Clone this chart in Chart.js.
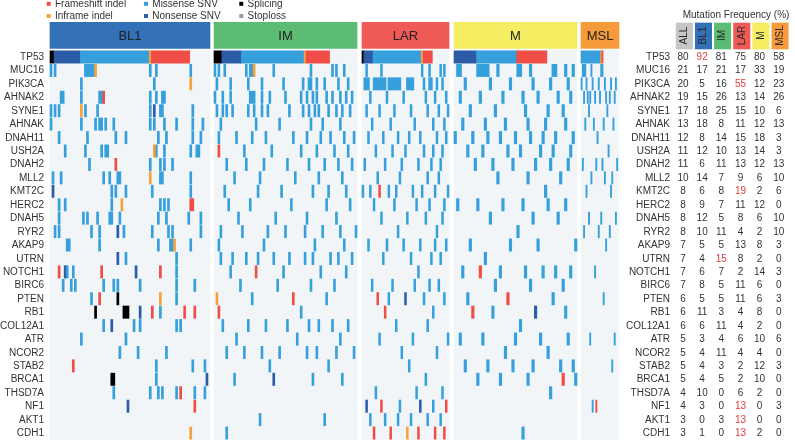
<!DOCTYPE html>
<html><head><meta charset="utf-8">
<script src="https://cdn.jsdelivr.net/npm/chart.js@4/dist/chart.umd.min.js"></script>
<style>html,body{margin:0;padding:0;background:#fff;}#wrap{position:relative;width:795px;height:440px;}</style>
</head><body><div id="wrap"><canvas id="c" width="795" height="440" style="width:795px;height:440px"></canvas></div>
<script>
// ---------------- DATA ----------------
const genes = ["TP53","MUC16","PIK3CA","AHNAK2","SYNE1","AHNAK","DNAH11","USH2A","DNAH2","MLL2","KMT2C","HERC2","DNAH5","RYR2","AKAP9","UTRN","NOTCH1","BIRC6","PTEN","RB1","COL12A1","ATR","NCOR2","STAB2","BRCA1","THSD7A","NF1","AKT1","CDH1"];
const subtypes = ["BL1","IM","LAR","M","MSL"];
const sampleCounts = [79,73,47,49,31];
const freqColumns = ["ALL","BL1","IM","LAR","M","MSL"];
const freqALL = [80,21,20,19,17,13,12,11,11,10,8,8,8,8,7,7,7,7,6,6,6,5,5,5,5,4,4,3,3];
const freqBL1 = [92,17,5,15,18,18,8,12,6,14,6,9,12,10,5,4,6,8,5,11,6,3,4,4,4,10,3,0,1];
const freqIM  = [81,21,16,26,25,8,14,10,11,7,8,7,5,11,5,15,7,5,5,3,11,4,11,3,5,0,0,3,0];
const freqLAR = [75,17,55,13,15,11,15,13,13,9,19,11,8,4,13,8,2,11,11,4,4,6,4,2,2,6,13,13,13];
const freqM   = [80,33,12,14,10,12,18,14,12,6,2,12,6,2,8,2,14,6,6,8,2,10,4,12,10,2,0,0,2];
const freqMSL = [58,19,23,26,6,13,3,3,13,10,6,0,10,10,3,0,3,0,3,0,0,6,0,3,0,0,3,0,0];
// highlighted (red) cells: [column, gene]
const highlights = [["BL1","TP53"],["LAR","PIK3CA"],["LAR","KMT2C"],["IM","UTRN"],["LAR","NF1"],["LAR","AKT1"],["LAR","CDH1"]];
const mutationTypes = ["Frameshift indel","Inframe indel","Missense SNV","Nonsense SNV","Splicing","Stoploss"];
const mutationCodes = ["F","I","M","N","S","L"];
// mutated samples per gene (sample index within subtype); letter = mutation type
const mutBL1 = [
 "S0-1 N2-14 M15-48 I49 F50-68",
 "M0 M2 M17-21 I22 M49 M52 M69",
 "M15 M51 I69",
 "M5-6 M15 M24-25 F26 M49 M52 M55-56",
 "M0 M2 M4 I15 M17 M23 M49 N51 M54-55 M70",
 "M0 M15 M22 M24 M25 M27 M31 M49 M51 M56 M62 M70 M75",
 "M4 M18 M32 M37 M53 M57 M70 M74",
 "M7 M17 M25 M27-28 I51 M52 M56 M69 M72-73",
 "M19 F32 M49 M54 M56 M60",
 "M1 M5 M26 M29 M33-34 I49 M54-55 M69",
 "N1 M30 M32 M37 M50 M69",
 "M4 M7 M30 I35 M54 M56 M58 F69-70",
 "M4 M16 M18 M23 M29 M30 M34 M53 M57 M68 M74",
 "M2 M4 M20 M24 N33 M36 M50 M58 M60 M74",
 "M8-9 M24 M53 M59-60 I61 M69",
 "N33 M37 M62",
 "F4 N7 M8 M11 F25 N42 F54 M62",
 "M6 M10 M12 M26 M31 M33 M44 M62 M71",
 "M20 F24 S33 I54 M62",
 "S22 S36-38 N44 F50 M54 F66 F71",
 "M26 N30 M41 M44 M62 M64",
 "M15 M37",
 "M34 M43 M57",
 "F11 M52 M70 M76",
 "S30-31 M52 N77",
 "M31 M49 M53 M55 M62 F64 M71 M76",
 "N38 F71",
 "",
 "I69"
];
const mutIM = [
 "S0-3 N4-13 M14-45 I46 F47-58",
 "M0 M2 M5 M16 M18-19 I20 M30 M49 M60 M62 M66",
 "M1 M8 M17 M24 M35 M45 M48-49 M52 M56 M63 M68",
 "M0 M4 M8 M18-20 M24 M28 M36 M44 M47 M50 M52 M57 M60 M64 M67 M70",
 "M1 M4 M6 M9 M17 M20 M24 M27 M38 M45 M48 M51 M53 M58 M62 M65 M69",
 "M3 M21 M33 M49 M55 M64",
 "M2 M11 M19 M26 M40 M47 M54 M59 M66 M71",
 "F2 M15 M29 M44 M52 M61 M68",
 "M6 M16 M25 M37 M48 M56 M63 M70",
 "M10 M23 M41 M53 M65",
 "M5 M22 M34 M50 M58 M67",
 "M7 M18 M39 M57 M69",
 "M12 M31 M47 M62",
 "M3 M14 M27 M36 M46 M55 M64 M72",
 "M2 M25 M51 M66",
 "M3 M9 M16 M22 M30 M38 M46 M50 M59 M63 M70",
 "M8 F21 M35 M54 M67",
 "M13 M32 M49 M61",
 "I1 M19 F40 M57",
 "F2 M44",
 "M4 M17 M26 M37 M48 M53 M60 M68",
 "M11 M42 M64",
 "M6 M15 M24 M33 M47 M52 M62 M71",
 "M28 M58",
 "M10 N30 M50 M65",
 "",
 "",
 "M23 M56",
 "M6"
];
const mutLAR = [
 "S0 N1-5 M6-31 I32 F33-37",
 "M2 M10 M32 M36 M42 M44",
 "M1-3 M6-12 M14-20 M24-27 M33 M36-37 M40 M43",
 "M4 M13 M22 M34 M39 M45",
 "M2 M9 M17 M26 M35 M41 M46",
 "M5 M15 M28 M38 M44",
 "M3 M11 M19 M25 M31 M40 M45",
 "M7 M16 M23 M33 M38 M43",
 "M1 M12 M21 M30 M37 M42",
 "M8 M20 M35 M41",
 "M0 M4 F9 M14 M18 M27 M32 M39 M46",
 "M6 M17 M29 M36 M44",
 "M10 M24 M34 M43",
 "M19 M40",
 "M3 M13 M22 M31 M39 M45",
 "M11 M26 M37 M42",
 "M30",
 "M5 M16 M28 M36 M41",
 "F8 M14 N23 M33 M44",
 "F12 M38",
 "M18 M35",
 "M9 M27 M46",
 "M21 M40",
 "M25",
 "M34",
 "M7 M29 M43",
 "N2 F10 M20 N31 M38 F45",
 "M4 M12 M19 M26 M35 M42",
 "F6 F15 I24 F30 F39 F44"
];
const mutM = [
 "N0-8 M9-24 F25-36",
 "M1-2 M9-13 M17 M25-26 M30 M39-40 M44 M47",
 "M4 M14 M22 M31 M38 M45",
 "M2 M10 M19 M27 M33 M41 M46",
 "M6 M16 M28 M37 M43",
 "M3 M12 M20 M29 M36 M44",
 "M0 M7 M13 M18 M24 M30 M35 M40 M47",
 "M5 M11 M21 M26 M34 M39 M46",
 "M8 M15 M23 M32 M38 M45",
 "M17 M29 M42",
 "M36",
 "M1 M9 M19 M27 M37 M44",
 "M14 M31 M41",
 "M25",
 "M6 M22 M33 M48",
 "M12",
 "M3 F10 M18 M28 M35 M40 M46",
 "M16 M30 M43",
 "M5 F21 M39",
 "F7 M15 N32 M44",
 "M26",
 "M2 M11 M24 M34 M45",
 "M20 M37",
 "M4 M13 M23 M31 M42 M47",
 "M9 M18 M29 F43 M48",
 "M38",
 "",
 "",
 "M27"
];
const mutMSL = [
 "M0-15 I16 F17",
 "M1-3 M8 M16-17",
 "M0 M4 M9 M14 M19 M24 M28",
 "M2 M5 M7 M11 M15 M20 M23 M27",
 "M6 M21",
 "M3 M10 M18 M26",
 "M13",
 "M22",
 "M1 M12 M17 M29",
 "M8 M19 M25",
 "M4 M24",
 "",
 "M6 M16 M28",
 "M2 M14 M23",
 "M20",
 "",
 "M11",
 "",
 "M18",
 "",
 "",
 "M7 M27",
 "",
 "M25",
 "",
 "",
 "M9 F12",
 "",
 ""
];

// ---------------- LAYOUT / STYLE ----------------
const ROW_PX = 13.43, ROW0_PX = 57, H = 440, W = 795;
const panelSpan = [[50,210],[214,357],[362,449],[454,577],[581,619]];
const headerRow = (35.3 - ROW0_PX) / ROW_PX;
const tableHeaderRow = (36 - ROW0_PX) / ROW_PX;
const tableColCenter = i => 684.3 + 19.15 * i;
const typeColors = {F:"#ef4d45", I:"#f5a23c", M:"#35a0dc", N:"#2c5ca8", S:"#000000", L:"#9a9a9a"};
const subtypeColors = {ALL:"#c6c6c6", BL1:"#3270b8", IM:"#5dbc73", LAR:"#ef5a57", M:"#f5ed62", MSL:"#f59b3b"};
const FONT = "'Liberation Sans', Arial, Helvetica, sans-serif";
const mutLists = [mutBL1, mutIM, mutLAR, mutM, mutMSL];
const freqLists = [freqALL, freqBL1, freqIM, freqLAR, freqM, freqMSL];

function parseMuts(str){
  str = str.trim(); if(!str) return [];
  return str.split(/\s+/).map(t => {
    const code = t[0]; const parts = t.slice(1).split("-").map(Number);
    return {code, from: parts[0], to: parts.length > 1 ? parts[1] : parts[0]};
  });
}

const bgData = [];
subtypes.forEach((s, si) => genes.forEach((g, gi) => bgData.push({x: panelSpan[si], y: gi})));
const markData = {}; mutationCodes.forEach(c => markData[c] = []);
subtypes.forEach((s, si) => {
  const [a, b] = panelSpan[si]; const w = (b - a) / sampleCounts[si];
  mutLists[si].forEach((str, gi) => parseMuts(str).forEach(m => {
    markData[m.code].push({x: [a + m.from * w, a + (m.to + 1) * w], y: gi});
  }));
});
const headerData = subtypes.map((s, si) => ({x: panelSpan[si], y: headerRow}));
const tableHeaderData = freqColumns.map((c, i) => ({x: [tableColCenter(i) - 8.2, tableColCenter(i) + 8.2], y: tableHeaderRow}));

// lower "order" is drawn on top
const datasets = [
  {data: bgData, backgroundColor: "#f1f5f8", barThickness: 13.9, order: 10},
  ...mutationCodes.map((c, i) => ({label: mutationTypes[i], data: markData[c], backgroundColor: typeColors[c], barThickness: 12.3, order: 1})),
  {data: headerData, backgroundColor: subtypes.map(s => subtypeColors[s]), barThickness: 26, order: 1},
  {data: tableHeaderData, backgroundColor: freqColumns.map(c => subtypeColors[c]), barThickness: 26, order: 1}
].map(d => Object.assign({stack: "all", grouped: true, borderWidth: 0, borderSkipped: false, clip: false}, d));

function txt(ctx, s, x, y, font, color, align, rot){
  ctx.save(); ctx.font = font; ctx.fillStyle = color; ctx.textAlign = align || "center"; ctx.textBaseline = "middle";
  ctx.translate(x, y); if (rot) ctx.rotate(rot); ctx.fillText(s, 0, 0); ctx.restore();
}

// keep scale units = layout units: one row = ROW_PX pixels, row 0 at ROW0_PX; x value = pixel
const fitPlugin = {
  id: "fitScales",
  afterLayout(chart){
    const y = chart.scales.y, x = chart.scales.x;
    for (let k = 0; k < 2; k++) {
      const pTop = y.getPixelForValue(y.min), pBot = y.getPixelForValue(y.max);
      const curScale = (pBot - pTop) / (y.max - y.min);
      const range = (y.max - y.min) * curScale / ROW_PX;
      y.min = (pTop - ROW0_PX) / ROW_PX; y.max = y.min + range;
      y.configure();
      const pL = x.getPixelForValue(x.min), pR = x.getPixelForValue(x.max);
      const xr = (x.max - x.min) * (pR - pL) / (x.max - x.min);
      x.min = pL; x.max = pL + xr; x.configure();
    }
  }
};

const textPlugin = {
  id: "texts",
  afterDatasetsDraw(chart){
    const ctx = chart.ctx, xs = chart.scales.x, ys = chart.scales.y;
    const py = r => ys.getPixelForValue(r), px = v => xs.getPixelForValue(v);
    subtypes.forEach((s, si) => txt(ctx, s, px((panelSpan[si][0] + panelSpan[si][1]) / 2), py(headerRow) + 1, "13px " + FONT, "#222", "center"));
    txt(ctx, "Mutation Frequency (%)", px(736), py((15.5 - ROW0_PX) / ROW_PX), "10px " + FONT, "#333", "center");
    freqColumns.forEach((c, i) => txt(ctx, c, px(tableColCenter(i)), py(tableHeaderRow) - 0.5, "10px " + FONT, "#2a2a2a", "center", -Math.PI / 2));
    genes.forEach((g, gi) => {
      txt(ctx, g, px(44), py(gi) + 0.3, "10px " + FONT, "#333", "right");
      txt(ctx, g, px(670), py(gi) + 0.3, "10px " + FONT, "#333", "right");
      freqLists.forEach((list, ci) => {
        const red = highlights.some(h => h[0] === freqColumns[ci] && h[1] === g);
        txt(ctx, String(list[gi]), px(tableColCenter(ci) - 1.3), py(gi) + 0.3, "10px " + FONT, red ? "#e23b3b" : "#333", "center");
      });
    });
    const legendPos = [[46.7, 3.8], [46.7, 16], [144, 3.8], [144, 16], [239.3, 3.8], [239.3, 16]];
    ["F", "I", "M", "N", "S", "L"].forEach((c, i) => {
      const [lx, ly] = legendPos[i];
      const yy = py((ly - ROW0_PX) / ROW_PX);
      ctx.fillStyle = typeColors[c];
      ctx.fillRect(px(lx), yy - 2, 4, 4);
      txt(ctx, mutationTypes[mutationCodes.indexOf(c)], px(lx + 8.3), yy + 0.3, "10px " + FONT, "#333", "left");
    });
  }
};

new Chart(document.getElementById("c"), {
  type: "bar",
  data: {datasets},
  options: {
    indexAxis: "y", responsive: false, animation: false, maintainAspectRatio: false, devicePixelRatio: 1,
    layout: {padding: 0, autoPadding: false},
    plugins: {legend: {display: false}, tooltip: {enabled: false}},
    scales: {
      x: {type: "linear", min: 0, max: W, display: false, stacked: false, offset: false, grace: 0},
      y: {type: "linear", reverse: true, min: -ROW0_PX / ROW_PX, max: (H - ROW0_PX) / ROW_PX, stacked: true, display: false, offset: false, grace: 0}
    }
  },
  plugins: [fitPlugin, textPlugin]
});
</script>
</body></html>
